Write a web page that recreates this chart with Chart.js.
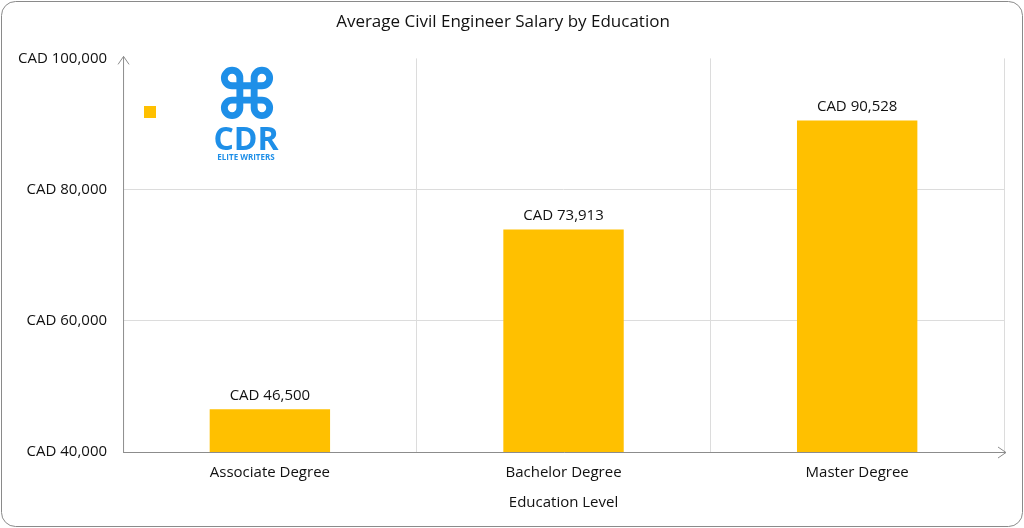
<!DOCTYPE html>
<html><head><meta charset="utf-8">
<script src="https://cdn.jsdelivr.net/npm/chart.js@4"></script>
<style>html,body{margin:0;padding:0;background:#fff}#w{width:1024px;height:528px;position:relative}</style>
</head><body><div id="w"><canvas id="c"></canvas></div>
<script>
const categories = ["Associate Degree","Bachelor Degree","Master Degree"];
const salaries = [46500, 73913, 90528];
const yTicks = [40000, 60000, 80000, 100000];
const FONT = "'Open Sans', 'Noto Sans', sans-serif";
const fmt = v => "CAD " + v.toLocaleString("en-US");

const deco = {
  id: "deco",
  beforeDraw(ch) {
    const c = ch.ctx;
    c.save();
    c.strokeStyle = "#8a8a8a"; c.lineWidth = 1;
    c.beginPath(); c.roundRect(1.5, 1.5, 1021, 525, 14); c.stroke();
    c.restore();
  },
  afterDraw(ch) {
    const c = ch.ctx, a = ch.chartArea;
    c.save();
    c.strokeStyle = "#8c8c8c"; c.lineWidth = 1;
    c.beginPath();
    c.moveTo(a.left + 0.5, a.bottom); c.lineTo(a.left + 0.5, a.top - 2);
    c.moveTo(a.left - 5, a.top + 6); c.lineTo(a.left + 0.5, a.top - 2); c.lineTo(a.left + 6, a.top + 6);
    c.moveTo(a.left, a.bottom + 0.5); c.lineTo(a.right + 2, a.bottom + 0.5);
    c.moveTo(a.right - 6, a.bottom - 5); c.lineTo(a.right + 2, a.bottom + 0.5); c.lineTo(a.right - 6, a.bottom + 6);
    c.stroke();
    const m = ch.getDatasetMeta(0);
    c.fillStyle = "#111"; c.font = "15px " + FONT; c.textAlign = "center"; c.textBaseline = "bottom";
    m.data.forEach((b, i) => c.fillText(fmt(salaries[i]), b.x, b.y - 6));
    c.fillStyle = "#FFC000"; c.fillRect(144, 106, 12, 12);
    c.fillStyle = "#1E8FE8"; c.textAlign = "center"; c.textBaseline = "alphabetic";
    c.font = "bold 66px " + FONT; c.fillText("⌘", 247, 118);
    c.font = "bold 32px " + FONT; c.fillText("CDR", 246, 150);
    c.font = "bold 8px " + FONT; c.fillText("ELITE WRITERS", 246, 160);
    c.restore();
  }
};

new Chart(document.getElementById("c"), {
  type: "bar",
  data: { labels: categories, datasets: [{ data: salaries, backgroundColor: "#FFC000", barPercentage: 0.41, categoryPercentage: 1 }] },
  options: {
    responsive: true, maintainAspectRatio: false, animation: false,
    layout: { padding: { left: 2, right: 20, top: 8, bottom: 12 } },
    plugins: {
      legend: { display: false }, tooltip: { enabled: false },
      title: { display: true, text: "Average Civil Engineer Salary by Education", color: "#111", font: { family: FONT, size: 17, weight: "normal" }, padding: { top: 4, bottom: 26 } }
    },
    scales: {
      x: {
        grid: { offset: true, color: ctx => (ctx.index === 0 || ctx.index === 3) ? "rgba(0,0,0,0)" : "#dcdcdc", drawTicks: false },
        border: { display: false },
        ticks: { color: "#111", font: { family: FONT, size: 15 }, padding: 12 },
        title: { display: true, text: "Education Level", color: "#111", font: { family: FONT, size: 15 }, padding: { top: 0 } }
      },
      y: {
        min: 40000, max: 100000,
        afterBuildTicks: ax => { ax.ticks = yTicks.map(v => ({ value: v })); },
        grid: { color: ctx => ctx.tick && ctx.tick.value === 100000 ? "rgba(0,0,0,0)" : "#dcdcdc", drawTicks: false },
        border: { display: false },
        ticks: { color: "#111", font: { family: FONT, size: 15 }, padding: 16, callback: v => fmt(v) }
      }
    }
  },
  plugins: [deco]
});
</script></body></html>
